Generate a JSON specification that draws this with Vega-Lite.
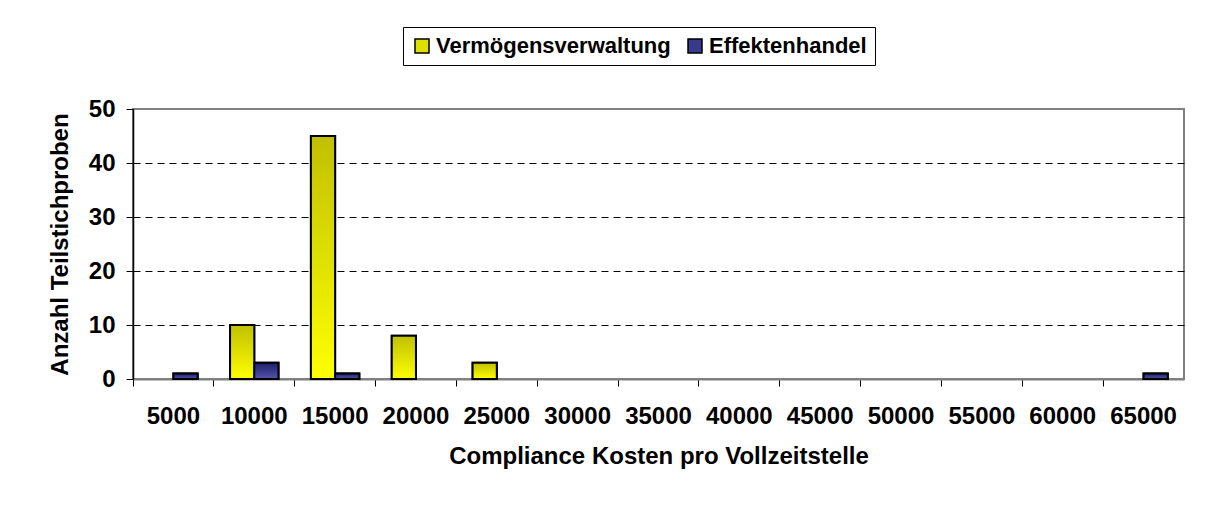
{
  "$schema": "https://vega.github.io/schema/vega-lite/v6.json",
  "width": 1051,
  "height": 270,
  "autosize": {"type": "none"},
  "padding": {"left": 133, "top": 109, "right": 29, "bottom": 128},
  "background": "white",
  "config": {
    "font": "Liberation Sans",
    "view": {"stroke": "#808080", "strokeWidth": 2}
  },
  "data": {
    "values": [
      {"kosten": "10000", "gruppe": "Vermögensverwaltung", "anzahl": 10},
      {"kosten": "15000", "gruppe": "Vermögensverwaltung", "anzahl": 45},
      {"kosten": "20000", "gruppe": "Vermögensverwaltung", "anzahl": 8},
      {"kosten": "25000", "gruppe": "Vermögensverwaltung", "anzahl": 3},
      {"kosten": "5000", "gruppe": "Effektenhandel", "anzahl": 1},
      {"kosten": "10000", "gruppe": "Effektenhandel", "anzahl": 3},
      {"kosten": "15000", "gruppe": "Effektenhandel", "anzahl": 1},
      {"kosten": "65000", "gruppe": "Effektenhandel", "anzahl": 1}
    ]
  },
  "encoding": {
    "x": {
      "field": "kosten",
      "type": "ordinal",
      "scale": {
        "domain": ["5000", "10000", "15000", "20000", "25000", "30000", "35000", "40000", "45000", "50000", "55000", "60000", "65000"],
        "paddingInner": 0,
        "paddingOuter": 0
      },
      "axis": {
        "title": "Compliance Kosten pro Vollzeitstelle",
        "titleFontSize": 24,
        "titleFontWeight": "bold",
        "titleColor": "#000000",
        "titleX": 525.5,
        "titleY": 84,
        "titleAlign": "center",
        "titleBaseline": "alphabetic",
        "labelAngle": 0,
        "labelFontSize": 24,
        "labelFontWeight": "bold",
        "labelColor": "#000000",
        "labelPadding": 18,
        "bandPosition": 0,
        "tickSize": 7,
        "tickColor": "#000000",
        "tickWidth": 1,
        "domainColor": "#808080",
        "domainWidth": 2,
        "grid": false
      }
    },
    "xOffset": {
      "field": "gruppe",
      "type": "nominal",
      "scale": {
        "domain": ["Vermögensverwaltung", "Effektenhandel"],
        "paddingOuter": 0.67,
        "paddingInner": 0
      }
    },
    "y": {
      "field": "anzahl",
      "type": "quantitative",
      "scale": {"domain": [0, 50], "nice": false},
      "axis": {
        "title": "Anzahl Teilstichproben",
        "titleFontSize": 24,
        "titleFontWeight": "bold",
        "titleColor": "#000000",
        "titleX": -73,
        "titleY": 135,
        "titleAngle": -90,
        "titleAlign": "center",
        "titleBaseline": "middle",
        "values": [0, 10, 20, 30, 40, 50],
        "labelFontSize": 24,
        "labelFontWeight": "bold",
        "labelColor": "#000000",
        "labelPadding": 11,
        "tickSize": 7,
        "tickColor": "#000000",
        "domainColor": "#000000",
        "domainWidth": 1.5,
        "grid": true,
        "gridColor": "#000000",
        "gridDash": [7, 5],
        "gridWidth": 1,
        "gridOpacity": {"condition": {"test": "datum.value === 0 || datum.value === 50", "value": 0}, "value": 1}
      }
    }
  },
  "layer": [
    {
      "mark": {"type": "bar", "stroke": "#000000", "strokeWidth": 2},
      "encoding": {
        "fill": {
          "field": "gruppe",
          "type": "nominal",
          "scale": {
            "domain": ["Vermögensverwaltung", "Effektenhandel"],
            "range": ["#e0e000", "#3a3a8c"]
          },
          "legend": {
            "title": null,
            "orient": "none",
            "legendX": 270,
            "legendY": -82,
            "direction": "horizontal",
            "labelFontSize": 22,
            "labelFontWeight": "bold",
            "labelColor": "#000000",
            "labelLimit": 400,
            "labelOffset": 3,
            "columnPadding": 13,
            "symbolType": "square",
            "symbolSize": 196,
            "symbolStrokeColor": "#000000",
            "symbolStrokeWidth": 1.5,
            "padding": 8,
            "strokeColor": "#000000",
            "fillColor": "#ffffff"
          }
        }
      }
    },
    {
      "transform": [{"filter": "datum.gruppe === 'Vermögensverwaltung'"}],
      "mark": {
        "type": "bar",
        "stroke": "#000000",
        "strokeWidth": 2,
        "fill": {"gradient": "linear", "x1": 0, "y1": 0, "x2": 0, "y2": 1, "stops": [{"offset": 0, "color": "#c0c000"}, {"offset": 1, "color": "#ffff00"}]}
      }
    },
    {
      "transform": [{"filter": "datum.gruppe === 'Effektenhandel'"}],
      "mark": {
        "type": "bar",
        "stroke": "#000000",
        "strokeWidth": 2,
        "fill": {"gradient": "linear", "x1": 0, "y1": 0, "x2": 0, "y2": 1, "stops": [{"offset": 0, "color": "#1e1e6e"}, {"offset": 1, "color": "#5555aa"}]}
      }
    }
  ]
}
